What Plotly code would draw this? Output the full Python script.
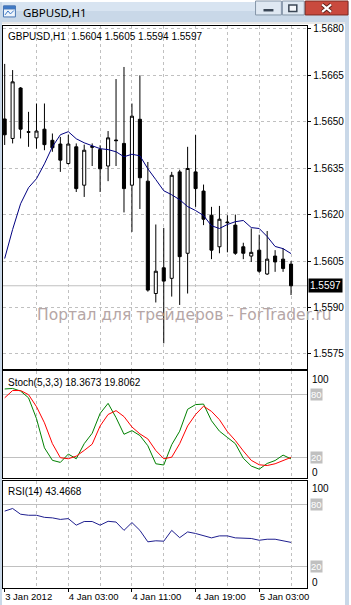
import plotly.graph_objects as go

W, H = 351, 605

# ---------------- data ----------------
bars = list(range(37))
opens = [1.56509, 1.56446, 1.56609, 1.56468, 1.56448, 1.56476, 1.56440, 1.56428, 1.56365, 1.56419,
         1.56295, 1.56420, 1.56410, 1.56357, 1.56441, 1.56430, 1.56295, 1.56508, 1.56308, 1.55945,
         1.56028, 1.55994, 1.56338, 1.56075, 1.56338, 1.56276, 1.56198, 1.56096, 1.56176, 1.56166,
         1.56096, 1.56066, 1.56085, 1.56008, 1.56066, 1.56056, 1.5604]
highs = [1.56687, 1.56667, 1.56612, 1.56532, 1.56559, 1.56559, 1.56462, 1.56451, 1.56458, 1.56430,
         1.56426, 1.56430, 1.56424, 1.56470, 1.56638, 1.56677, 1.56559, 1.56650, 1.56370, 1.56168,
         1.56157, 1.56338, 1.56345, 1.56419, 1.56457, 1.56297, 1.56225, 1.56228, 1.56198, 1.56200,
         1.56109, 1.56155, 1.56135, 1.56147, 1.56085, 1.56091, 1.5605]
lows = [1.56425, 1.56430, 1.56446, 1.56419, 1.56413, 1.56408, 1.56403, 1.56338, 1.56362, 1.56273,
        1.56257, 1.56357, 1.56273, 1.56308, 1.56357, 1.56207, 1.56144, 1.56218, 1.55951, 1.55916,
        1.55784, 1.55935, 1.55908, 1.55945, 1.56225, 1.56166, 1.56056, 1.56075, 1.56078, 1.56070,
        1.56056, 1.56047, 1.56012, 1.56005, 1.56015, 1.56015, 1.5594]
closes = [1.56458, 1.56629, 1.56476, 1.56466, 1.56470, 1.56426, 1.56416, 1.56376, 1.56428, 1.56284,
          1.56408, 1.56418, 1.56348, 1.56448, 1.56439, 1.56284, 1.56518, 1.56319, 1.55956, 1.56017,
          1.55985, 1.56327, 1.56064, 1.56349, 1.56284, 1.56185, 1.56085, 1.56185, 1.56174, 1.56075,
          1.56075, 1.56078, 1.56017, 1.56056, 1.56047, 1.56026, 1.5597]
ma = [1.56058, 1.56152, 1.56235, 1.56287, 1.56316, 1.56364, 1.56419, 1.56458, 1.56468, 1.56445,
      1.56432, 1.56423, 1.56413, 1.56410, 1.56403, 1.56387, 1.56395, 1.56390, 1.56348, 1.56313,
      1.56277, 1.56264, 1.56248, 1.56226, 1.56213, 1.56197, 1.56164, 1.56155, 1.56168, 1.56177,
      1.56181, 1.56158, 1.56155, 1.56129, 1.56097, 1.56090, 1.56074]
stoch_main = [85.5, 86, 83.5, 77, 57, 29, 17, 15, 23, 18.5,
              33, 43, 62, 71.7, 58, 42, 45.5, 40.8, 31, 13.7,
              12.5, 32, 45, 66, 70.5, 71, 55, 45, 39, 33,
              19, 11.5, 8.5, 14, 16.8, 22, 18.3673]
stoch_signal = [77, 84, 84, 80, 68.5, 53, 33, 19.5, 18.5, 21,
                26.5, 32.5, 50, 61, 64.7, 59, 49, 42.4, 37.5, 26.4,
                18.5, 20, 33, 50, 61, 69, 64, 56, 44.5, 36,
                26, 17, 12.7, 12, 13.7, 17, 19.8062]
rsi = [73.5, 76, 70.5, 69.5, 69.5, 67.5, 67, 65.5, 66.3, 60,
       63.5, 63.5, 60, 63.7, 63, 55, 62.5, 55, 44, 45,
       44.6, 55, 48, 53.5, 52, 49.7, 47.8, 49.7, 49.7, 47.8,
       47.8, 47.2, 45.5, 46.5, 46.5, 45, 43.4668]
price_ticks = [1.5575, 1.5590, 1.5605, 1.5620, 1.5635, 1.5650, 1.5665, 1.5680]
grid_bars = [4, 8, 12, 16, 20, 24, 28, 32, 36]
time_label_bars = [0, 8, 16, 24, 32]
time_labels = ["3 Jan 2012", "4 Jan 03:00", "4 Jan 11:00", "4 Jan 19:00", "5 Jan 03:00"]
level_lines = [20, 80]

# ---------------- helpers (pixel -> paper) ----------------
def px(x):
    return x / W


def py(y):
    return 1 - y / H


FONT = "Liberation Sans, Arial, sans-serif"
GRID = "#c0c0c0"
X_RANGE = [-0.2125, 38.0375]

fig = go.Figure()

fig.add_trace(go.Candlestick(
    x=bars, open=opens, high=highs, low=lows, close=closes,
    increasing=dict(line=dict(color="black", width=1), fillcolor="white"),
    decreasing=dict(line=dict(color="black", width=1), fillcolor="black"),
    whiskerwidth=0, xaxis="x", yaxis="y", showlegend=False, hoverinfo="skip"))
fig.add_trace(go.Scatter(x=bars, y=ma, mode="lines", line=dict(color="#000080", width=1),
                         xaxis="x", yaxis="y", showlegend=False, hoverinfo="skip"))
fig.add_trace(go.Scatter(x=bars, y=stoch_main, mode="lines", line=dict(color="#008000", width=1),
                         xaxis="x2", yaxis="y2", showlegend=False, hoverinfo="skip"))
fig.add_trace(go.Scatter(x=bars, y=stoch_signal, mode="lines", line=dict(color="#ff0000", width=1),
                         xaxis="x2", yaxis="y2", showlegend=False, hoverinfo="skip"))
fig.add_trace(go.Scatter(x=bars, y=rsi, mode="lines", line=dict(color="#1f1f8f", width=1),
                         xaxis="x3", yaxis="y3", showlegend=False, hoverinfo="skip"))
# invisible trace so that the time-label axis is drawn
fig.add_trace(go.Scatter(x=bars, y=[None] * len(bars), mode="lines", xaxis="x4", yaxis="y3",
                         showlegend=False, hoverinfo="skip"))

xdom = [px(3), px(309)]
common_x = dict(range=X_RANGE, domain=xdom, tickmode="array", tickvals=grid_bars,
                showticklabels=False, ticks="", showgrid=True, gridcolor=GRID, gridwidth=1,
                griddash="3px,3px", zeroline=False, showline=True, linecolor="black",
                linewidth=1, mirror=True, fixedrange=True)

fig.update_layout(
    width=W, height=H, margin=dict(l=0, r=0, t=0, b=0),
    paper_bgcolor="white", plot_bgcolor="white", boxgap=0.45,
    showlegend=False,
    xaxis=dict(**common_x, anchor="y", rangeslider=dict(visible=False)),
    xaxis2=dict(**common_x, anchor="y2"),
    xaxis3=dict(**common_x, anchor="y3"),
    xaxis4=dict(range=X_RANGE, domain=xdom, overlaying="x3", anchor="y3", side="bottom",
                tickmode="array", tickvals=time_label_bars, ticktext=time_labels,
                ticks="outside", ticklen=3, tickcolor="black", showgrid=False,
                zeroline=False, showline=False, ticklabelposition="outside right",
                tickfont=dict(family=FONT, size=9.5, color="black"), fixedrange=True),
    yaxis=dict(domain=[py(368), py(24)], range=[1.557017, 1.568097], side="right",
               anchor="x", tickmode="array", tickvals=price_ticks,
               ticktext=[f"{v:.4f}" for v in price_ticks],
               ticks="outside", ticklen=3, tickcolor="black",
               tickfont=dict(family=FONT, size=10, color="black"),
               showgrid=True, gridcolor=GRID, griddash="3px,3px", zeroline=False,
               showline=True, linecolor="black", mirror=True, fixedrange=True),
    yaxis2=dict(domain=[py(478), py(370)], range=[-0.38, 102.97], side="right",
                anchor="x2", tickmode="array", tickvals=level_lines, showticklabels=False,
                ticks="", showgrid=True, gridcolor=GRID, zeroline=False,
                showline=True, linecolor="black", mirror=True, fixedrange=True),
    yaxis3=dict(domain=[py(588), py(481)], range=[-0.38, 102.0], side="right",
                anchor="x3", tickmode="array", tickvals=level_lines, showticklabels=False,
                ticks="", showgrid=True, gridcolor=GRID, zeroline=False,
                showline=True, linecolor="black", mirror=True, fixedrange=True),
)

shapes = []
FRAME = "#c9d8e8"
# window frame / title bar
shapes.append(dict(type="rect", xref="paper", yref="paper", x0=0, x1=1, y0=py(22), y1=1,
                   fillcolor=FRAME, line=dict(width=0), layer="above"))
shapes.append(dict(type="rect", xref="paper", yref="paper", x0=0, x1=1, y0=py(9), y1=1,
                   fillcolor="#d8e4f1", line=dict(width=0), layer="above"))
shapes.append(dict(type="rect", xref="paper", yref="paper", x0=0, x1=px(2), y0=0, y1=1,
                   fillcolor=FRAME, line=dict(width=0), layer="above"))
shapes.append(dict(type="rect", xref="paper", yref="paper", x0=px(347), x1=1, y0=0, y1=1,
                   fillcolor=FRAME, line=dict(width=0), layer="above"))
shapes.append(dict(type="rect", xref="paper", yref="paper", x0=px(2), x1=px(347), y0=py(22), y1=py(20),
                   fillcolor="#e8e8e8", line=dict(width=0), layer="above"))
# icon
shapes.append(dict(type="rect", xref="paper", yref="paper", x0=px(3.5), x1=px(15.5), y0=py(15), y1=py(4),
                   fillcolor="#eef4fb", line=dict(color="#4a78b5", width=1), layer="above"))
shapes.append(dict(type="rect", xref="paper", yref="paper", x0=px(3.5), x1=px(15.5), y0=py(7), y1=py(4),
                   fillcolor="#3d7ac9", line=dict(color="#4a78b5", width=1), layer="above"))
shapes.append(dict(type="path", xref="paper", yref="paper",
                   path=f"M {px(5)},{py(13)} L {px(8)},{py(9)} L {px(10.5)},{py(12)} L {px(14)},{py(8.5)}",
                   line=dict(color="#3d7ac9", width=1), layer="above"))
# minimize / maximize buttons
for x0, x1 in [(257, 283), (284, 306)]:
    shapes.append(dict(type="rect", xref="paper", yref="paper", x0=px(x0), x1=px(x1), y0=py(13), y1=py(-1),
                       fillcolor="#dfe8f2", line=dict(color="#8595a8", width=1), layer="above"))
shapes.append(dict(type="rect", xref="paper", yref="paper", x0=px(265), x1=px(275), y0=py(9.5), y1=py(7),
                   fillcolor="#3b4756", line=dict(width=0), layer="above"))
shapes.append(dict(type="rect", xref="paper", yref="paper", x0=px(290.5), x1=px(298.5), y0=py(9.5), y1=py(3),
                   fillcolor="#f4f7fb", line=dict(color="#3b4756", width=1.5), layer="above"))
# close button
shapes.append(dict(type="rect", xref="paper", yref="paper", x0=px(307), x1=px(350), y0=py(13), y1=py(-1),
                   fillcolor="#c94a3e", line=dict(color="#7d2b22", width=1), layer="above"))
for col, wd in [("#5a1f18", 4), ("white", 2.2)]:
    shapes.append(dict(type="path", xref="paper", yref="paper",
                       path=f"M {px(324)},{py(2.5)} L {px(333)},{py(10)} M {px(333)},{py(2.5)} L {px(324)},{py(10)}",
                       line=dict(color=col, width=wd), layer="above"))
# bid line (last close)
shapes.append(dict(type="line", xref="x domain", yref="y", x0=0, x1=1, y0=closes[-1], y1=closes[-1],
                   line=dict(color=GRID, width=1), layer="below"))
fig.update_layout(shapes=shapes)

ann = []
ann.append(dict(xref="paper", yref="paper", x=px(21), y=py(10.5), xanchor="left", yanchor="middle",
                text="GBPUSD,H1", showarrow=False,
                font=dict(family="Noto Sans, sans-serif", size=11.5, color="black")))
o, h, l, c = opens[-1], highs[-1], lows[-1], closes[-1]
ann.append(dict(xref="paper", yref="paper", x=px(6), y=py(34.5), xanchor="left", yanchor="middle",
                text=f"GBPUSD,H1\u00a0\u00a0{o:.4f} {h:.4f} {l:.4f} {c:.4f}", showarrow=False,
                font=dict(family=FONT, size=10, color="black")))
ann.append(dict(xref="paper", yref="paper", x=px(6), y=py(381.5), xanchor="left", yanchor="middle",
                text=f"Stoch(5,3,3) {stoch_main[-1]:.4f} {stoch_signal[-1]:.4f}", showarrow=False,
                font=dict(family=FONT, size=10, color="black")))
ann.append(dict(xref="paper", yref="paper", x=px(6), y=py(491.5), xanchor="left", yanchor="middle",
                text=f"RSI(14) {rsi[-1]:.4f}", showarrow=False,
                font=dict(family=FONT, size=10, color="black")))
# current price box
ann.append(dict(xref="paper", yref="y", x=px(310), y=c, xanchor="left", yanchor="middle",
                text=f"{c:.4f}", showarrow=False, bgcolor="black", borderpad=1,
                font=dict(family=FONT, size=10, color="white")))
# watermark
ann.append(dict(xref="paper", yref="paper", x=px(35), y=py(314.5), xanchor="left", yanchor="middle",
                text="Портал для трейдеров - ForTrader.ru", showarrow=False,
                font=dict(family="DejaVu Sans, sans-serif", size=15.5, color="#b5a6a6")))
# indicator scale labels
for yr, top_px, bot_px in [("y2", 378.5, 472.5), ("y3", 488.5, 582.5)]:
    ann.append(dict(xref="paper", yref="paper", x=px(312), y=py(top_px), xanchor="left", yanchor="middle",
                    text="100", showarrow=False, font=dict(family=FONT, size=10, color="black")))
    ann.append(dict(xref="paper", yref="paper", x=px(312), y=py(bot_px), xanchor="left", yanchor="middle",
                    text="0", showarrow=False, font=dict(family=FONT, size=10, color="black")))
    for lv in level_lines:
        ann.append(dict(xref="paper", yref=yr, x=px(311.5), y=lv, xanchor="left", yanchor="middle",
                        text=str(lv), showarrow=False, bgcolor=GRID, borderpad=0,
                        font=dict(family=FONT, size=9.5, color="white")))
fig.update_layout(annotations=ann)

fig.write_html("out.html")
